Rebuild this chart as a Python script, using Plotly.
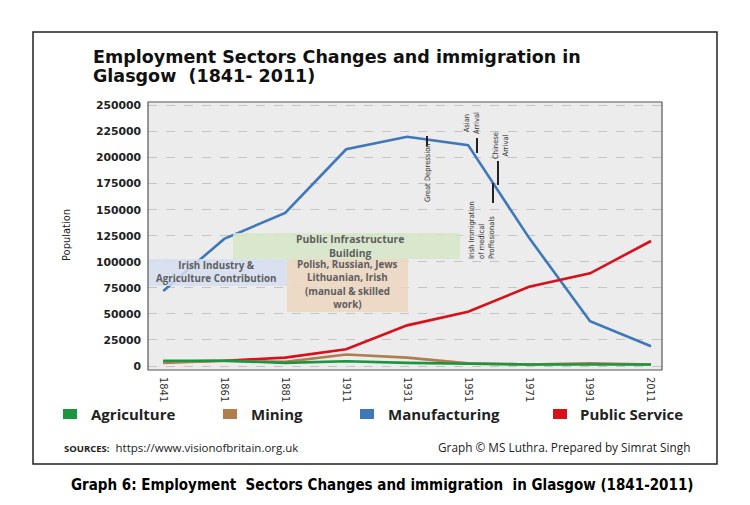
import plotly.graph_objects as go

years = ["1841", "1861", "1881", "1911", "1931", "1951", "1971", "1991", "2011"]
agriculture = [5000, 5000, 3000, 4500, 3000, 2000, 1500, 1500, 1500]
mining = [3000, 5000, 4000, 11000, 8000, 2500, 1500, 2500, 1500]
manufacturing = [72000, 122000, 147000, 208000, 220000, 212000, 123000, 43000, 19000]
public_service = [4000, 5000, 8000, 16000, 39000, 52000, 76000, 89000, 120000]

series_names = ["Agriculture", "Mining", "Manufacturing", "Public Service"]
series_colors = ["#1a9641", "#b07d4f", "#3f78b9", "#d7101b"]

y_ticks = list(range(0, 250001, 25000))

# page is 750x505, the html body adds an 8px margin
OFF = 8
W, H = 750, 505
L, R, T, B = 148, 662, 102, 370   # plot area, page pixels


def px(x):
    return (x - L) / (R - L)


def py(y):
    return (B - y) / (B - T)


NARROW = "Liberation Sans Narrow, DejaVu Sans Condensed, sans-serif"
SANS = "Open Sans, DejaVu Sans, sans-serif"

fig = go.Figure()
order = [2, 3, 1, 0]
all_vals = [agriculture, mining, manufacturing, public_service]
for i in order:
    fig.add_trace(go.Scatter(x=years, y=all_vals[i], mode="lines", name=series_names[i],
                             line=dict(color=series_colors[i], width=2.6), showlegend=False))

shapes = []
annotations = []

# outer frame
shapes.append(dict(type="rect", xref="paper", yref="paper", x0=px(33), x1=px(717),
                   y0=py(464), y1=py(32), line=dict(color="#222", width=1.5), layer="below"))

# shaded boxes
boxes = [
    (148, 287, 259, 286, "rgba(214,222,240,0.85)"),
    (233, 460, 233, 259, "rgba(214,232,200,0.85)"),
    (287, 408, 259, 312, "rgba(236,214,192,0.85)"),
]
for x0, x1, y0, y1, c in boxes:
    shapes.append(dict(type="rect", xref="paper", yref="paper", x0=px(x0), x1=px(x1),
                       y0=py(y1), y1=py(y0), fillcolor=c, line=dict(width=0), layer="above"))

# plot border
shapes.append(dict(type="rect", xref="paper", yref="paper", x0=0, x1=1, y0=0, y1=1,
                   line=dict(color="#555", width=1.2), layer="above"))

# box captions
box_font = dict(family=SANS, size=9.8, color="#5e5e5e", weight="bold")
box_texts = [
    ("Public Infrastructure<br>Building", 350, 246, 10.4),
    ("Irish Industry &<br>Agriculture Contribution", 216, 272, 9.8),
    ("Polish, Russian, Jews<br>Lithuanian, Irish", 347, 271, 9.8),
    ("(manual & skilled<br>work)", 347, 298, 9.8),
]
for txt, x, y, s in box_texts:
    annotations.append(dict(text=txt, x=px(x), y=py(y), font=dict(box_font, size=s)))

# vertical event labels with tick marks
vfont = dict(family=NARROW, size=7.5, color="#333")
annotations += [
    dict(text="Great Depression", x=px(427), y=py(173), textangle=-90, font=vfont),
    dict(text="Asian<br>Arrival", x=px(472), y=py(123), textangle=-90, font=vfont),
    dict(text="Chinese<br>Arrival", x=px(500), y=py(146), textangle=-90, font=vfont),
    dict(text="Irish Immigration<br>of medical<br>Proffesionals", x=px(481), y=py(230),
         textangle=-90, align="left", font=vfont),
]
for x, y0, y1 in [(427, 136, 146), (477, 138, 153), (498, 161, 185), (493, 183, 203)]:
    shapes.append(dict(type="line", xref="paper", yref="paper", x0=px(x), x1=px(x),
                       y0=py(y0), y1=py(y1), line=dict(color="#222", width=2)))

# title (two lines placed separately for tight spacing)
tfont = dict(family="DejaVu Sans, sans-serif", size=17.5, color="#111", weight="bold")
annotations += [
    dict(text="Employment Sectors Changes and immigration in", x=px(91), y=py(57), xanchor="left", font=tfont),
    dict(text="Glasgow  (1841- 2011)", x=px(91), y=py(76), xanchor="left", font=tfont),
]
# y axis title
annotations.append(dict(text="Population", x=px(66), y=py(235), textangle=-90,
                        font=dict(family=NARROW, size=11, color="#222")))

# legend
legend_pos = [(63, 89), (223, 249), (360, 386), (553, 578)]
for (sx, tx), name, col in zip(legend_pos, series_names, series_colors):
    shapes.append(dict(type="rect", xref="paper", yref="paper", x0=px(sx), x1=px(sx + 14),
                       y0=py(419), y1=py(409), fillcolor=col, line=dict(width=0)))
    annotations.append(dict(text=name, x=px(tx), y=py(414), xanchor="left",
                            font=dict(family=SANS, size=15, color="#222", weight="bold")))

# sources / credits
annotations += [
    dict(text="<b><span style='font-size:9.5px'>SOURCES:</span></b>  https://www.visionofbritain.org.uk",
         x=px(62), y=py(447), xanchor="left", font=dict(family=SANS, size=11.5, color="#222")),
    dict(text="Graph © MS Luthra. Prepared by Simrat Singh", x=px(692), y=py(447), xanchor="right",
         font=dict(family=SANS, size=11.8, color="#222")),
    dict(text="<b>Graph 6: Employment  Sectors Changes and immigration  in Glasgow (1841-2011)</b>",
         x=px(382), y=py(485), font=dict(family=NARROW, size=15, color="#000")),
]
for a in annotations:
    a.setdefault("xref", "paper")
    a.setdefault("yref", "paper")
    a.setdefault("xanchor", "center")
    a.setdefault("yanchor", "middle")
    a.setdefault("showarrow", False)

fig.update_layout(
    width=W - OFF, height=H - OFF,
    margin=dict(l=L - OFF, r=W - R, t=T - OFF, b=H - B),
    paper_bgcolor="white", plot_bgcolor="#ececec",
    shapes=shapes, annotations=annotations,
    xaxis=dict(type="category", range=[-0.25, 8.18], showgrid=False, tickangle=90,
               tickfont=dict(family=NARROW, size=11, color="#333"), ticks="",
               ticklabelstandoff=6),
    yaxis=dict(range=[-3840, 253400], tickvals=y_ticks, ticktext=[str(v) for v in y_ticks],
               showgrid=True, gridcolor="#c4c4c4", griddash="dash", gridwidth=1, zeroline=False,
               tickfont=dict(family="DejaVu Sans, sans-serif", size=10.8, color="#222", weight="bold"),
               ticks="", ticklabelstandoff=6),
)

fig.write_html("out.html")
